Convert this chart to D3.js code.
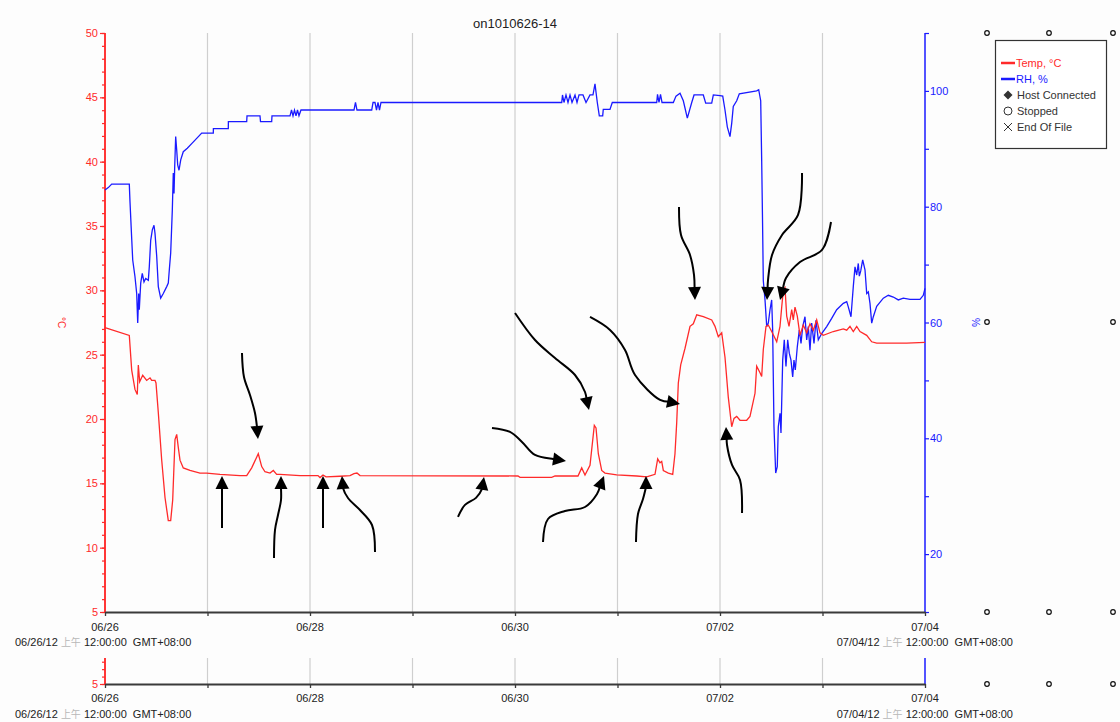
<!DOCTYPE html>
<html>
<head>
<meta charset="utf-8">
<script src="https://cdn.jsdelivr.net/npm/d3@7"></script>
<style>
  body { margin: 0; background: #fdfdfd; }
  svg { font-family: "Liberation Sans", Arial, sans-serif; }
</style>
</head>
<body>
<svg id="chart" width="1120" height="722"></svg>
<script>
// hours since 06/26 00:00, value
const tempSeries = [
  [0, 27.1], [5.69, 26.5], [6.25, 23.8], [7.02, 22.3], [7.56, 21.9], [7.8, 24.2], [8.12, 22.9],
  [8.83, 23.4], [9.76, 23.0], [10.54, 23.2], [10.93, 23.0], [11.71, 23.0], [11.94, 22.8],
  [12.48, 20.5], [13.28, 16.8], [14.05, 13.9], [14.82, 12.1], [15.38, 12.1], [15.85, 13.7],
  [16.39, 18.4], [16.79, 18.8], [17.16, 17.8], [17.56, 16.8], [18.33, 16.2], [19.9, 16.0],
  [22.24, 15.8], [23.81, 15.8], [26.93, 15.7], [31.61, 15.6], [33.18, 15.6], [34.35, 16.2],
  [35.89, 17.3], [36.69, 16.3], [37.46, 15.9], [38.63, 15.8], [39.41, 16.0], [40.2, 15.7],
  [40.98, 15.7], [45.66, 15.6], [49.87, 15.6], [50.34, 15.45], [51.04, 15.65], [51.75, 15.5],
  [55.02, 15.55], [57.37, 15.6], [58.3, 15.75], [59.0, 15.8], [59.71, 15.6], [96.7, 15.57],
  [97.17, 15.47], [104.59, 15.47], [105.37, 15.57], [110.75, 15.57], [111.62, 16.2],
  [112.39, 15.65], [113.56, 16.4], [114.57, 19.5], [114.97, 19.3], [115.51, 17.3], [116.3, 16.0],
  [117.07, 15.8], [119.81, 15.65], [124.5, 15.57], [126.84, 15.5], [128.78, 15.7], [129.41, 16.9],
  [129.95, 16.6], [130.35, 16.7], [130.73, 16.0], [131.9, 15.8], [132.93, 15.7], [133.46, 17.3],
  [133.86, 19.7], [134.24, 22.8], [134.8, 24.2], [135.81, 25.5], [136.98, 27.2], [137.75, 27.4],
  [138.55, 28.1], [140.09, 27.95], [142.06, 27.7], [142.83, 27.2], [143.6, 26.4], [144.4, 26.7],
  [145.17, 24.8], [145.94, 21.7], [146.74, 19.4], [147.28, 20.05], [147.91, 20.2], [148.68, 19.9],
  [150.25, 19.9], [151.02, 20.2], [152.2, 22.0], [152.59, 24.1], [153.37, 23.6], [153.76, 23.3],
  [154.14, 25.4], [154.77, 27.2], [155.31, 27.3], [156.1, 26.8], [157.28, 26.0], [158.05, 27.2],
  [158.45, 28.7], [158.82, 30.0], [159.22, 30.2], [159.62, 28.0], [160.16, 27.2], [160.79, 28.5],
  [161.16, 27.7], [161.56, 28.7], [162.1, 28.0], [162.73, 26.5], [163.5, 27.3], [164.3, 26.7],
  [165.07, 27.4], [165.85, 26.9], [166.64, 27.7], [167.41, 26.7], [168.19, 26.5], [170.53, 26.8],
  [172.87, 27.0], [173.67, 26.9], [174.44, 27.2], [175.21, 26.8], [176.01, 27.2], [176.78, 26.8],
  [178.35, 26.5], [179.52, 26.0], [180.69, 25.9], [187.71, 25.9], [192, 25.95]
];

const rhSeries = [
  [0, 82.9], [0.77, 83.3], [1.57, 83.9], [5.69, 83.9], [5.85, 80.9], [6.25, 74.5], [6.49, 70.8],
  [7.02, 67.9], [7.42, 65.0], [7.66, 59.9], [7.89, 65.0], [8.03, 62.2], [8.36, 66.8], [8.73, 68.5],
  [9.13, 67.0], [9.53, 67.6], [10.14, 67.3], [10.37, 69.6], [10.7, 74.2], [11.08, 76.0], [11.47, 76.8],
  [11.71, 75.4], [12.11, 71.4], [12.48, 66.2], [13.04, 64.2], [13.65, 65.0], [14.45, 66.2],
  [14.82, 66.8], [15.06, 69.1], [15.38, 72.0], [15.76, 79.4], [15.99, 85.8], [16.16, 82.3],
  [16.32, 86.9], [16.55, 92.1], [16.79, 89.8], [17.02, 87.2], [17.33, 86.3], [17.73, 88.1],
  [18.33, 89.5], [19.27, 90.1], [20.3, 90.9], [21.47, 91.8], [22.64, 92.7], [25.36, 92.7],
  [25.38, 93.5], [28.87, 93.5], [28.89, 94.7], [33.18, 94.7], [33.25, 95.7], [36.29, 95.7],
  [36.41, 94.7], [39.03, 94.7], [39.1, 95.7], [43.32, 95.7], [43.67, 96.7], [44.02, 95.7],
  [44.37, 96.7], [44.72, 95.7], [45.07, 96.7], [45.42, 95.7], [45.89, 96.7], [58.3, 96.7],
  [58.65, 98.0], [59.0, 96.7], [62.45, 96.7], [62.76, 98.0], [63.22, 98.0], [63.57, 96.7],
  [63.92, 98.0], [64.27, 96.7], [64.62, 98.0], [106.94, 98.0], [107.12, 99.3], [107.47, 98.0],
  [107.94, 99.3], [108.41, 98.0], [108.88, 99.3], [109.35, 98.0], [110.05, 99.3], [110.52, 98.0],
  [110.99, 99.3], [111.92, 99.3], [112.63, 98.0], [113.56, 99.3], [114.26, 99.3], [114.73, 101.2],
  [115.27, 98.0], [115.74, 95.7], [116.53, 95.7], [116.67, 96.8], [118.24, 96.8], [118.78, 98.0],
  [129.18, 98.0], [129.37, 99.4], [129.72, 98.0], [130.07, 99.4], [130.42, 98.0], [133.07, 98.0],
  [133.7, 99.1], [134.64, 99.6], [135.41, 98.3], [136.35, 95.3], [137.38, 98.0], [137.92, 99.3],
  [140.09, 99.3], [140.65, 97.9], [142.06, 97.9], [142.44, 99.3], [144.01, 99.2], [144.64, 99.1],
  [145.17, 96.7], [145.71, 93.8], [146.34, 92.1], [146.74, 94.4], [147.11, 97.3], [147.91, 98.3],
  [148.52, 99.5], [152.59, 100.0], [153.06, 100.2], [153.53, 98.3], [153.76, 88.0], [153.95, 78.0],
  [154.14, 67.2], [154.54, 63.9], [154.94, 59.3], [155.31, 59.9], [155.71, 62.2], [156.1, 63.9],
  [156.33, 58.7], [156.64, 42.0], [157.04, 34.0], [157.41, 35.1], [157.65, 42.0], [158.05, 44.3],
  [158.28, 40.9], [158.68, 53.5], [159.05, 57.0], [159.45, 52.4], [159.85, 57.0], [160.22, 54.7],
  [160.62, 53.5], [161.02, 50.6], [161.32, 53.5], [161.63, 51.8], [162.1, 55.8], [162.57, 58.7],
  [162.97, 56.4], [163.37, 59.3], [163.9, 61.0], [164.3, 57.0], [164.67, 59.3], [165.07, 55.2],
  [165.47, 59.9], [166.01, 56.4], [166.48, 60.4], [167.02, 57.0], [167.81, 58.1], [168.98, 59.3],
  [170.15, 60.7], [171.32, 62.2], [172.87, 63.3], [173.67, 63.6], [174.04, 62.7], [174.67, 61.0],
  [175.21, 66.2], [175.61, 69.6], [176.01, 68.2], [176.38, 70.2], [176.62, 68.0], [176.95, 68.9],
  [177.41, 70.8], [177.95, 69.1], [178.35, 65.0], [178.73, 65.3], [179.12, 63.3], [179.52, 59.9],
  [179.9, 61.0], [180.69, 62.8], [182.24, 64.2], [183.41, 64.7], [184.58, 64.4], [185.75, 63.9],
  [186.92, 64.2], [188.49, 64.0], [190.83, 64.0], [191.6, 64.7], [192, 65.9]
];

const tempTicks = [5, 10, 15, 20, 25, 30, 35, 40, 45, 50];
const rhTicks = [10, 20, 30, 40, 50, 60, 70, 80, 90, 100, 110];
const rhLabelled = [20, 40, 60, 80, 100];
const startLabel = "06/26/12";
const endLabel = "07/04/12";

// hand-drawn arrows: tip in data space [hour, °C], tail as pixel offsets from tip
const arrows = [
  { tip: [35.82, 18.45], pts: [[-16, -86], [-14, -62], [-8, -44], [-3, -26], [-1, -12], [0, 0]] },
  { tip: [27.4, 15.57], pts: [[0, 52], [0, 14], [0, 0]] },
  { tip: [41.21, 15.57], pts: [[-7, 82], [-6, 54], [-3, 39], [0, 24], [0, 12], [0, 0]] },
  { tip: [51.04, 15.57], pts: [[0, 52], [0, 14], [0, 0]] },
  { tip: [55.49, 15.57], pts: [[33, 76], [30, 49], [18, 34], [6, 22], [1, 12], [0, 0]] },
  { tip: [88.74, 15.5], pts: [[-26, 40], [-19, 28], [-8, 21], [-2, 12], [0, 0]] },
  { tip: [107.94, 16.74], pts: [[-74, -33], [-56, -29], [-44, -19], [-31, -6], [-13, -2], [0, 0]] },
  { tip: [113.33, 20.7], pts: [[-74, -97], [-54, -70], [-34, -52], [-14, -35], [-4, -18], [0, 0]] },
  { tip: [116.84, 15.57], pts: [[-61, 66], [-56, 43], [-39, 35], [-19, 31], [-7, 18], [0, 0]] },
  { tip: [134.64, 21.17], pts: [[-90, -87], [-70, -74], [-55, -54], [-45, -29], [-20, -4], [0, 0]] },
  { tip: [126.67, 15.57], pts: [[-10, 66], [-8, 38], [-3, 23], [0, 11], [0, 0]] },
  { tip: [138.15, 29.25], pts: [[-16, -93], [-14, -65], [-5, -45], [-1, -25], [0, 0]] },
  { tip: [145.41, 19.38], pts: [[16, 86], [14, 53], [6, 38], [1, 18], [0, 0]] },
  { tip: [155.01, 29.25], pts: [[35, -127], [31, -85], [15, -65], [5, -45], [1, -20], [0, 0]] },
  { tip: [158.05, 29.25], pts: [[51, -78], [42, -50], [20, -38], [6, -22], [0, 0]] }
];

const RED = "#ff2a2a";
const BLUE = "#1a1aff";
const AXIS = "#3a3a3a";
const GRID = "#cfcfcf";

const svg = d3.select("#chart");
const start = new Date(2012, 5, 26);
const end = new Date(2012, 6, 4);
const hourToDate = h => start.getTime() + h * 3600e3;

const plotL = 105, plotR = 925, plotT = 33, plotB = 612;
const x = d3.scaleTime().domain([start, end]).range([plotL, plotR]);
const yT = d3.scaleLinear().domain([5, 50]).range([plotB, plotT]);
const yRH = d3.scaleLinear().domain([10, 110]).range([plotB, plotT]);

const stripT = 658, stripB = 684;
const yStrip = d3.scaleLinear().domain([5, 8.5]).range([stripB, stripT]);

const days = d3.timeDay.range(start, d3.timeDay.offset(end, 1));
const dayFmt = d3.timeFormat("%m/%d");
const dayLabel = d => (d3.timeDay.count(start, d) % 2 === 0 ? dayFmt(d) : "");

svg.append("text")
  .attr("x", 515).attr("y", 28)
  .attr("text-anchor", "middle")
  .style("font-size", "13px").style("fill", "#222")
  .text("on1010626-14");

function drawFrame(top, bottom, yLeft, showRight, labelY, dateY) {
  const g = svg.append("g");

  g.append("g").selectAll("line")
    .data(days.slice(1, -1))
    .enter().append("line")
    .attr("x1", d => x(d)).attr("x2", d => x(d))
    .attr("y1", top).attr("y2", bottom)
    .style("stroke", GRID).style("stroke-width", 1.2);

  // left red axis with minor ticks
  const minor = d3.range(Math.ceil(yLeft.domain()[0]), Math.floor(yLeft.domain()[1]) + 1);
  const leftMinor = g.append("g").attr("transform", `translate(${plotL},0)`)
    .call(d3.axisLeft(yLeft).tickValues(minor).tickSize(3).tickSizeOuter(0).tickFormat(""));
  const leftMajor = g.append("g").attr("transform", `translate(${plotL},0)`)
    .call(d3.axisLeft(yLeft).tickValues(tempTicks.filter(v => v <= yLeft.domain()[1]))
      .tickFormat(d3.format("d")).tickSize(5).tickSizeOuter(0).tickPadding(2));
  [leftMinor, leftMajor].forEach(a => {
    a.select(".domain").attr("d", `M0,${top}V${bottom}`).style("stroke", RED).style("stroke-width", 1.5);
    a.selectAll(".tick line").style("stroke", RED).style("stroke-width", 1.2);
    a.selectAll(".tick text").style("fill", RED).style("font-size", "11px")
      .style("font-family", "'Liberation Sans', Arial, sans-serif");
  });

  // right blue axis
  const right = g.append("g").attr("transform", `translate(${plotR},0)`);
  if (showRight) {
    right.call(d3.axisRight(yRH).tickValues(rhTicks).tickSize(4).tickSizeOuter(0).tickPadding(1)
      .tickFormat(d => (rhLabelled.includes(d) ? d : "")));
    right.selectAll(".tick line").style("stroke", BLUE).style("stroke-width", 1.2);
    right.selectAll(".tick text").style("fill", BLUE).style("font-size", "11px")
      .style("font-family", "'Liberation Sans', Arial, sans-serif");
  }
  right.selectAll(".domain").remove();
  right.append("line").attr("y1", top).attr("y2", bottom)
    .style("stroke", BLUE).style("stroke-width", 1.5);

  // bottom time axis
  const bottomAxis = g.append("g").attr("transform", `translate(0,${bottom})`)
    .call(d3.axisBottom(x).tickValues(days).tickSize(4).tickSizeOuter(0).tickFormat(""));
  bottomAxis.select(".domain").style("stroke", AXIS).style("stroke-width", 1.8);
  bottomAxis.selectAll(".tick line").style("stroke", AXIS).style("stroke-width", 1.3);

  g.append("g").selectAll("text")
    .data(days.filter(d => dayLabel(d) !== ""))
    .enter().append("text")
    .attr("x", d => x(d)).attr("y", labelY)
    .attr("text-anchor", "middle")
    .style("font-size", "11px").style("fill", "#222")
    .text(dayLabel);

  [[startLabel, 15, "start"], [endLabel, 1013, "end"]].forEach(([lab, px, anchor]) => {
    const t = g.append("text").attr("x", px).attr("y", dateY).attr("text-anchor", anchor)
      .style("font-size", "11px").style("fill", "#222").attr("xml:space", "preserve");
    t.append("tspan").text(lab + " ");
    t.append("tspan").style("fill", "#b8b8b8").style("font-family", "'Noto Sans CJK JP', sans-serif")
      .style("font-size", "10px").text("上午");
    t.append("tspan").text(" 12:00:00  GMT+08:00");
  });
}

drawFrame(plotT, plotB, yT, true, 631, 646);
drawFrame(stripT, stripB, yStrip, false, 702, 718);

// series
const lineT = d3.line().x(d => x(hourToDate(d[0]))).y(d => yT(d[1]));
const lineRH = d3.line().x(d => x(hourToDate(d[0]))).y(d => yRH(d[1]));

svg.append("path").datum(rhSeries)
  .attr("d", lineRH)
  .style("fill", "none").style("stroke", BLUE).style("stroke-width", 1.3);
svg.append("path").datum(tempSeries)
  .attr("d", lineT)
  .style("fill", "none").style("stroke", RED).style("stroke-width", 1.3);

// axis titles
svg.append("text")
  .attr("transform", `translate(58,${yT(27.5)}) rotate(90)`)
  .attr("text-anchor", "middle")
  .style("font-size", "10px").style("fill", RED)
  .text("°C");
svg.append("text")
  .attr("transform", `translate(972,${yRH(60)}) rotate(90)`)
  .attr("text-anchor", "middle")
  .style("font-size", "10px").style("fill", BLUE)
  .text("%");

// annotation arrows
const curve = d3.line().curve(d3.curveCatmullRom.alpha(0.5));
const annot = svg.append("g");
arrows.forEach(a => {
  const tx = x(hourToDate(a.tip[0])), ty = yT(a.tip[1]);
  const pts = a.pts.map(([dx, dy]) => [tx + dx, ty + dy]);
  const prev = pts[pts.length - 2];
  const ang = Math.atan2(ty - prev[1], tx - prev[0]);
  const headLen = 13, headW = 6.5;
  const bx = tx - headLen * Math.cos(ang), by = ty - headLen * Math.sin(ang);
  const body = pts.slice(0, -1).concat([[bx + Math.cos(ang) * 2, by + Math.sin(ang) * 2]]);
  annot.append("path").attr("d", curve(body))
    .style("fill", "none").style("stroke", "#000").style("stroke-width", 2);
  const px = -Math.sin(ang), py = Math.cos(ang);
  annot.append("path")
    .attr("d", `M${tx},${ty}L${bx + px * headW},${by + py * headW}L${bx - px * headW},${by - py * headW}Z`)
    .style("fill", "#000");
});

// legend
const legend = svg.append("g");
legend.append("rect").attr("x", 995.5).attr("y", 40.5).attr("width", 111).attr("height", 108)
  .style("fill", "#fff").style("stroke", "#333").style("stroke-width", 1.2);
const legendItems = [
  { label: "Temp, °C", kind: "line", color: RED },
  { label: "RH, %", kind: "line", color: BLUE },
  { label: "Host Connected", kind: "diamond", color: "#333" },
  { label: "Stopped", kind: "circle", color: "#333" },
  { label: "End Of File", kind: "cross", color: "#333" }
];
legendItems.forEach((it, i) => {
  const cy = 63 + i * 16;
  const g = legend.append("g");
  if (it.kind === "line") {
    g.append("line").attr("x1", 1001).attr("x2", 1015).attr("y1", cy).attr("y2", cy)
      .style("stroke", it.color).style("stroke-width", 2.5);
  } else if (it.kind === "diamond") {
    g.append("path").attr("d", `M1008,${cy - 4.5}L1012.5,${cy}L1008,${cy + 4.5}L1003.5,${cy}Z`)
      .style("fill", it.color);
  } else if (it.kind === "circle") {
    g.append("circle").attr("cx", 1008).attr("cy", cy).attr("r", 4)
      .style("fill", "none").style("stroke", it.color).style("stroke-width", 1);
  } else {
    g.append("path").attr("d", `M1004,${cy - 4}L1012,${cy + 4}M1012,${cy - 4}L1004,${cy + 4}`)
      .style("stroke", it.color).style("stroke-width", 1);
  }
  g.append("text").attr("x", it.kind === "line" ? 1016 : 1017).attr("y", cy + 4)
    .style("font-size", "11px")
    .style("fill", it.kind === "line" ? it.color : "#333")
    .text(it.label);
});

// selection handles
const handles = [
  [987, 33], [1049, 33], [1113, 33], [987, 322], [1113, 322],
  [987, 612], [1049, 612], [1113, 612], [987, 684], [1049, 684], [1113, 684]
];
svg.append("g").selectAll("circle").data(handles).enter().append("circle")
  .attr("cx", d => d[0]).attr("cy", d => d[1]).attr("r", 2.3)
  .style("fill", "#fff").style("stroke", "#111").style("stroke-width", 1.2);
</script>
</body>
</html>
